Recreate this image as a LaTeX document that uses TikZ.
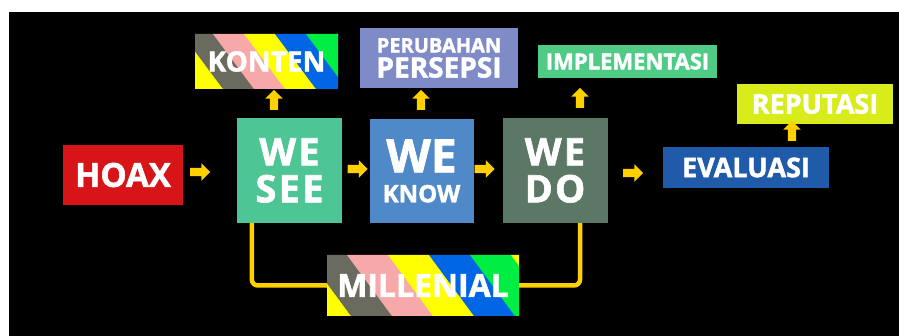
\documentclass[tikz,border=0pt]{standalone}
\usepackage{fontspec}
\setmainfont{Open Sans}[BoldFeatures={FakeBold=1.6}]
\usetikzlibrary{positioning, calc, backgrounds, shapes.arrows}

\definecolor{hoaxred}{HTML}{D71518}
\definecolor{seegreen}{HTML}{4EC595}
\definecolor{knowblue}{HTML}{4F89C7}
\definecolor{dogray}{HTML}{5B7766}
\definecolor{evalblue}{HTML}{1F5BA8}
\definecolor{reputlime}{HTML}{D8EC1B}
\definecolor{implgreen}{HTML}{4FCB85}
\definecolor{persviolet}{HTML}{7F8BC7}
\definecolor{arrowyellow}{HTML}{FFD000}
\definecolor{stripegray}{HTML}{6A6A5E}
\definecolor{stripepink}{HTML}{F7A9AA}
\definecolor{stripeyellow}{HTML}{FFFF00}
\definecolor{stripeblue}{HTML}{0066E6}
\definecolor{stripegreen}{HTML}{00EE44}

\tikzset{
    % diagonal stripes inside a node: stripe width, slant, first offset
    stripes/.style n args={3}{path picture={
        \foreach \col [count=\i from 0] in {stripeyellow,stripegray,stripepink,stripeyellow,stripeblue,stripegreen,stripeyellow}{
            \pgfmathsetmacro{\sx}{#3+\i*#1}
            \fill[\col] ($(path picture bounding box.north west)+(\sx,0)$)
                -- ($(path picture bounding box.north west)+(\sx+#1+0.5,0)$)
                -- ($(path picture bounding box.south west)+(\sx+#1+#2+0.5,0)$)
                -- ($(path picture bounding box.south west)+(\sx+#2,0)$) -- cycle;
        }}}
}

\begin{document}
\begin{tikzpicture}[
    x=1pt, y=-1pt,
    box/.style={inner sep=0pt, text=white, align=center},
    yarrow/.style={single arrow, fill=arrowyellow, inner sep=4pt,
        single arrow head extend=4.5pt, minimum height=20pt},
    uparrow/.style={yarrow, shape border rotate=90},
    link/.style={draw=arrowyellow, line width=4.5pt, rounded corners=6pt}
]
    % page with the black ground
    \useasboundingbox (0,0) rectangle (899,336);
    \fill[white] (0,0) rectangle (899,336);
    \fill[black] (9,12) rectangle (899,336);

    % main row
    \node[box, fill=hoaxred, minimum width=120pt, minimum height=60pt,
        font=\bfseries\fontsize{33}{33}\selectfont] (hoax) at (123,175) {HOAX};
    \node[box, fill=seegreen, minimum size=105pt,
        font=\bfseries\fontsize{38}{37}\selectfont\addfontfeature{LetterSpace=6}] (wesee) at (289.5,170.5) {WE\\SEE};
    \node[box, fill=knowblue, minimum size=104pt,
        font=\bfseries\fontsize{24}{30}\selectfont] (weknow) at (421.5,171) {{\fontsize{46}{46}\selectfont WE}\\KNOW};
    \node[box, fill=dogray, minimum size=105pt,
        font=\bfseries\fontsize{38}{37}\selectfont\addfontfeature{LetterSpace=6}] (wedo) at (555,170.5) {WE\\DO};
    \node[box, fill=evalblue, minimum width=166pt, minimum height=41pt,
        font=\bfseries\fontsize{27}{27}\selectfont] (evaluasi) at (746,167.5) {EVALUASI};

    % upper row
    \node[box, stripes={31}{41}{-44}, minimum width=143pt, minimum height=55pt,
        font=\bfseries\fontsize{28}{28}\selectfont] (konten) at (266.5,61.5) {KONTEN};
    \node[box, fill=persviolet, minimum width=158pt, minimum height=60pt,
        font=\bfseries\fontsize{28}{25}\selectfont] (persepsi) at (439,58) {{\fontsize{20}{20}\selectfont PERUBAHAN}\\PERSEPSI};
    \node[box, fill=implgreen, minimum width=179pt, minimum height=33pt,
        font=\bfseries\fontsize{22}{22}\selectfont] (implementasi) at (627.5,61.5) {IMPLEMENTASI};
    \node[box, fill=reputlime, minimum width=156pt, minimum height=40pt,
        font=\bfseries\fontsize{27}{27}\selectfont] (reputasi) at (815,104) {REPUTASI};

    % bottom
    \node[box, stripes={41}{45}{-62}, minimum width=192pt, minimum height=61pt,
        font=\bfseries\fontsize{32}{32}\selectfont] (millenial) at (423,285.5) {MILLENIAL};

    % yellow arrows
    \node[yarrow] (hoaxsee) at (198,172) {};
    \node[yarrow] (seeknow) at (355.5,169) {};
    \node[yarrow] (knowdo) at (482.5,169) {};
    \node[yarrow] (doeval) at (631,173) {};
    \node[uparrow] (seekonten) at (274,102) {};
    \node[uparrow] (knowpers) at (421,102) {};
    \node[uparrow] (doimpl) at (580,100) {};
    \node[uparrow] (evalrep) at (792,133) {};

    % millenial links
    \draw[link] ($(wesee.south west)+(15,0)$) |- (millenial.west);
    \draw[link] (millenial.east) -| ($(wedo.south)+(25,0)$);
\end{tikzpicture}
\end{document}
